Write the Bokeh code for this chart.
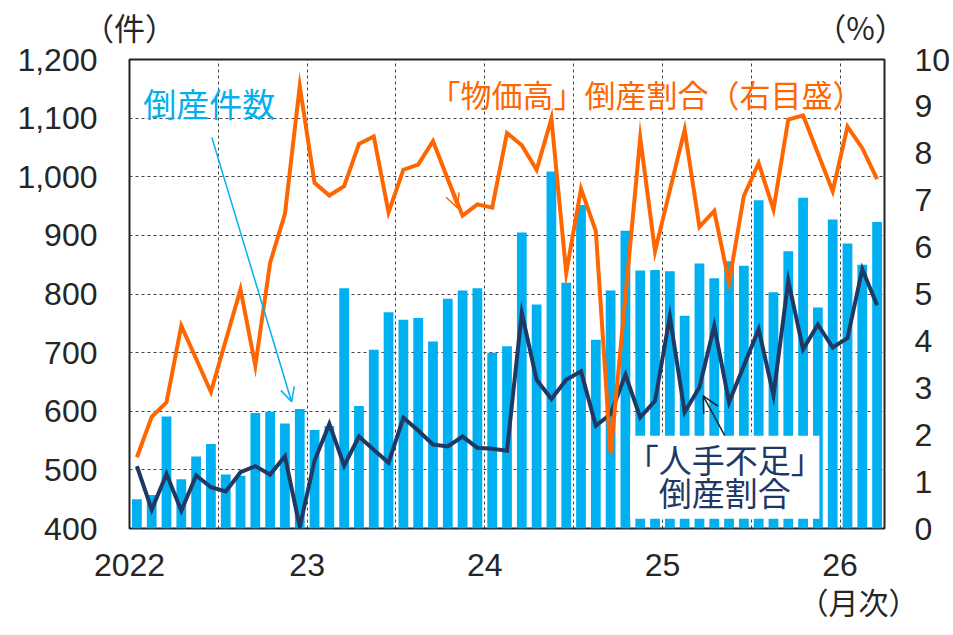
from bokeh.plotting import figure
from bokeh.models import (Range1d, LinearAxis, FixedTicker, Label, Arrow,
                          OpenHead, BoxAnnotation)
from bokeh.embed import file_html
from bokeh.resources import INLINE

# ---- data (monthly, Jan 2022 - Mar 2026) ----
counts = [450, 457, 591, 484, 523, 544, 492, 490, 597, 599, 579, 604,
          568, 575, 810, 609, 705, 769, 756, 759, 719, 792, 806, 810,
          700, 711, 905, 782, 1009, 819, 952, 722, 806, 908, 840, 841,
          839, 763, 852, 827, 856, 848, 960, 803, 873, 964, 777, 927,
          886, 850, 923]
price_share = [1.52, 2.38, 2.69, 4.32, 3.62, 2.91, 4.01, 5.10, 3.47, 5.67, 6.71, 9.43,
               7.37, 7.10, 7.30, 8.20, 8.36, 6.74, 7.65, 7.76, 8.26, 7.45, 6.67, 6.91,
               6.84, 8.43, 8.17, 7.65, 8.74, 5.45, 7.24, 6.34, 1.59, 4.95, 8.33, 5.91,
               7.21, 8.50, 6.43, 6.77, 5.24, 7.09, 7.79, 6.80, 8.72, 8.81, 8.00, 7.19,
               8.57, 8.11, 7.45]
labor_share = [1.33, 0.40, 1.16, 0.38, 1.13, 0.88, 0.79, 1.20, 1.33, 1.15, 1.54, 0.03,
               1.45, 2.23, 1.34, 1.96, 1.68, 1.40, 2.36, 2.09, 1.79, 1.75, 1.96, 1.72,
               1.70, 1.66, 4.60, 3.17, 2.76, 3.17, 3.35, 2.19, 2.44, 3.28, 2.37, 2.72,
               4.52, 2.48, 3.01, 4.32, 2.69, 3.47, 4.25, 2.84, 5.28, 3.82, 4.35, 3.86,
               4.06, 5.53, 4.76]
year_ticks = [0, 12, 24, 36, 48]
year_labels = ["2022", "23", "24", "25", "26"]
left_ticks = [400, 500, 600, 700, 800, 900, 1000, 1100, 1200]
right_ticks = [0, 1, 2, 3, 4, 5, 6, 7, 8, 9, 10]
unit_ticks = [0, 49.38]
unit_labels = ["（件）", "（%）"]
period_ticks = [49.25]
period_labels = ["（月次）"]

xs = [i + 0.5 for i in range(len(counts))]

CYAN = "#00B0F0"
ORANGE = "#FF6600"
NAVY = "#1F3864"
TXT = "#262626"
NUMFONT = "Liberation Sans"
JPFONT = "Noto Sans CJK JP"

p = figure(width=953, height=635, output_backend="svg", toolbar_location=None,
           x_range=Range1d(0, len(counts)), y_range=Range1d(400, 1200),
           min_border_left=129, min_border_right=66, min_border_top=58,
           min_border_bottom=107)
p.extra_y_ranges = {"pct": Range1d(0, 10)}
p.background_fill_color = "white"
p.border_fill_color = "white"
p.outline_line_color = "#222222"
p.outline_line_width = 2

# axes
p.xaxis.ticker = FixedTicker(ticks=year_ticks)
p.xaxis.major_label_overrides = {t: l for t, l in zip(year_ticks, year_labels)}
p.xaxis.major_label_standoff = 25
p.yaxis.ticker = FixedTicker(ticks=left_ticks)
p.yaxis.formatter.use_scientific = False
p.yaxis.major_label_overrides = {t: f"{t:,}" for t in left_ticks}
p.yaxis.major_label_standoff = 32

ra = LinearAxis(y_range_name="pct", ticker=FixedTicker(ticks=right_ticks))
ra.major_label_standoff = 30
p.add_layout(ra, "right")

for ax in p.axis:
    ax.major_label_text_font = NUMFONT
    ax.major_label_text_font_size = "32px"

# unit captions as top axis, period caption as second bottom axis
ua = LinearAxis(ticker=FixedTicker(ticks=unit_ticks),
                major_label_overrides={t: l for t, l in zip(unit_ticks, unit_labels)})
ua.major_label_standoff = 11
ua.major_label_text_font = JPFONT
ua.major_label_text_font_size = "31px"
p.add_layout(ua, "above")

pa = LinearAxis(ticker=FixedTicker(ticks=period_ticks),
                major_label_overrides={t: l for t, l in zip(period_ticks, period_labels)})
pa.major_label_standoff = 0
pa.major_label_text_font = JPFONT
pa.major_label_text_font_size = "30px"
p.add_layout(pa, "below")

for ax in p.axis:
    ax.axis_line_color = None
    ax.major_tick_line_color = None
    ax.minor_tick_line_color = None
    ax.major_tick_out = 0
    ax.major_tick_in = 0
    ax.major_label_text_color = TXT

# grids
p.xgrid.ticker = FixedTicker(ticks=[6, 12, 18, 24, 30, 36, 42, 48])
p.ygrid.ticker = FixedTicker(ticks=left_ticks[1:-1])
for g in (p.xgrid, p.ygrid):
    g.grid_line_color = "#444444"
    g.grid_line_dash = "3 3"
    g.grid_line_width = 1

# bars and lines
p.vbar(x=xs, top=counts, bottom=400, width=0.66, fill_color=CYAN, line_color=None)
p.line(xs, labor_share, y_range_name="pct", line_color=NAVY, line_width=4,
       line_join="miter")
p.line(xs, price_share, y_range_name="pct", line_color=ORANGE, line_width=4,
       line_join="miter")

# navy label box
p.add_layout(BoxAnnotation(left=33.82, right=46.60, top=558.3, bottom=416.5,
                           fill_color="white", fill_alpha=1.0, line_color=None))


def lab(x, y, text, color, size):
    p.add_layout(Label(x=x, y=y, text=text, text_color=color, text_font=JPFONT,
                       text_font_size=size, text_align="center",
                       text_baseline="middle"))


lab(5.38, 1125.1, "倒産件数", CYAN, "33px")
lab(34.92, 1142.1, "「物価高」倒産割合（右目盛）", ORANGE, "31px")
lab(40.21, 519.1, "「人手不足」", NAVY, "33px")
lab(40.21, 461.8, "倒産割合", NAVY, "33px")

# arrows
p.add_layout(Arrow(end=OpenHead(size=14, line_color=CYAN, line_width=1.5),
                   x_start=5.56, y_start=1067.2, x_end=10.95, y_end=616.2,
                   line_color=CYAN, line_width=1.5))
p.add_layout(Arrow(end=OpenHead(size=14, line_color=ORANGE, line_width=1.5),
                   x_start=20.45, y_start=1060.4, x_end=22.16, y_end=946.9,
                   line_color=ORANGE, line_width=1.5))
p.add_layout(Arrow(end=OpenHead(size=16, line_color="#222222", line_width=1.5),
                   x_start=40.21, y_start=558.3, x_end=38.75, y_end=626.4,
                   line_color="#222222", line_width=1.5))

open("out.html", "w").write(file_html(p, INLINE))
